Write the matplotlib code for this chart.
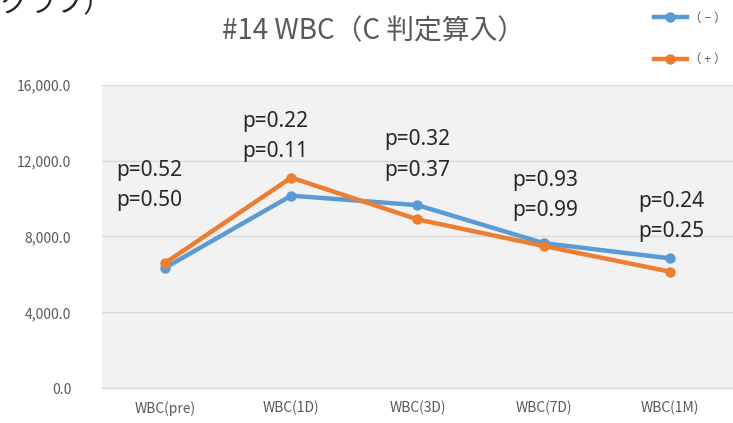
import matplotlib
matplotlib.use("Agg")
import matplotlib.pyplot as plt

plt.rcParams['font.family'] = ['Noto Sans CJK JP', 'DejaVu Sans']

# データ
categories = ["WBC(pre)", "WBC(1D)", "WBC(3D)", "WBC(7D)", "WBC(1M)"]
neg_vals = [6350, 10150, 9650, 7650, 6850]   # (−)
pos_vals = [6600, 11100, 8900, 7500, 6150]   # (+)
p_top = ["p=0.52", "p=0.22", "p=0.32", "p=0.93", "p=0.24"]
p_bottom = ["p=0.50", "p=0.11", "p=0.37", "p=0.99", "p=0.25"]
# ラベル位置 (データ座標)
p_x = [-0.39, 0.61, 1.74, 2.75, 3.75]
p_y = [11500, 14030, 13080, 10970, 9820]
yticks = [0, 4000, 8000, 12000, 16000]

blue = "#5B9BD5"
orange = "#ED7D31"
grey = "#595959"

fig = plt.figure(figsize=(7.33, 4.23), dpi=100)
ax = fig.add_axes([0.139, 0.0816, 0.861, 0.7186])
ax.set_facecolor("#f2f2f2")

x = range(len(categories))
ax.plot(x, neg_vals, color=blue, lw=3.2, marker="o", ms=6.5, label="（ − ）", zorder=3)
ax.plot(x, pos_vals, color=orange, lw=3.2, marker="o", ms=6.5, label="（ + ）", zorder=3)

for i in x:
    ax.text(p_x[i], p_y[i], p_top[i], fontsize=15, color="#262626",
            va="center", ha="left", family="Noto Sans")
    ax.text(p_x[i], p_y[i] - 1580, p_bottom[i], fontsize=15, color="#262626",
            va="center", ha="left", family="Noto Sans")

ax.set_xlim(-0.5, 4.5)
ax.set_ylim(0, 16000)
ax.set_yticks(yticks)
ax.set_yticklabels(["{:,.1f}".format(v) for v in yticks])
ax.set_xticks(list(x))
ax.set_xticklabels(categories)
ax.tick_params(axis="both", length=0, colors=grey, labelsize=10)
ax.tick_params(axis="y", pad=22)
ax.tick_params(axis="x", pad=9)
ax.grid(axis="y", color="#d9d9d9", lw=1)
ax.set_axisbelow(True)
for s in ["top", "right", "left"]:
    ax.spines[s].set_visible(False)
ax.spines["bottom"].set_color("#d0d0d0")

# タイトル・凡例
fig.text(0.51, 0.925, "#14 WBC（C 判定算入）", fontsize=20, color=grey,
         ha="center", va="center")
ax.legend(loc="upper right", bbox_to_anchor=(0.998, 0.985),
          bbox_transform=fig.transFigure, frameon=False,
          fontsize=9, labelcolor=grey, handlelength=2.6, labelspacing=2.3,
          handletextpad=0.2, borderaxespad=0)

# 上端で切れた文字
fig.text(0.0, 0.955, "グラフ）", fontsize=20, color="#222222",
         ha="left", va="bottom")

fig.savefig("out.png", dpi=100)
